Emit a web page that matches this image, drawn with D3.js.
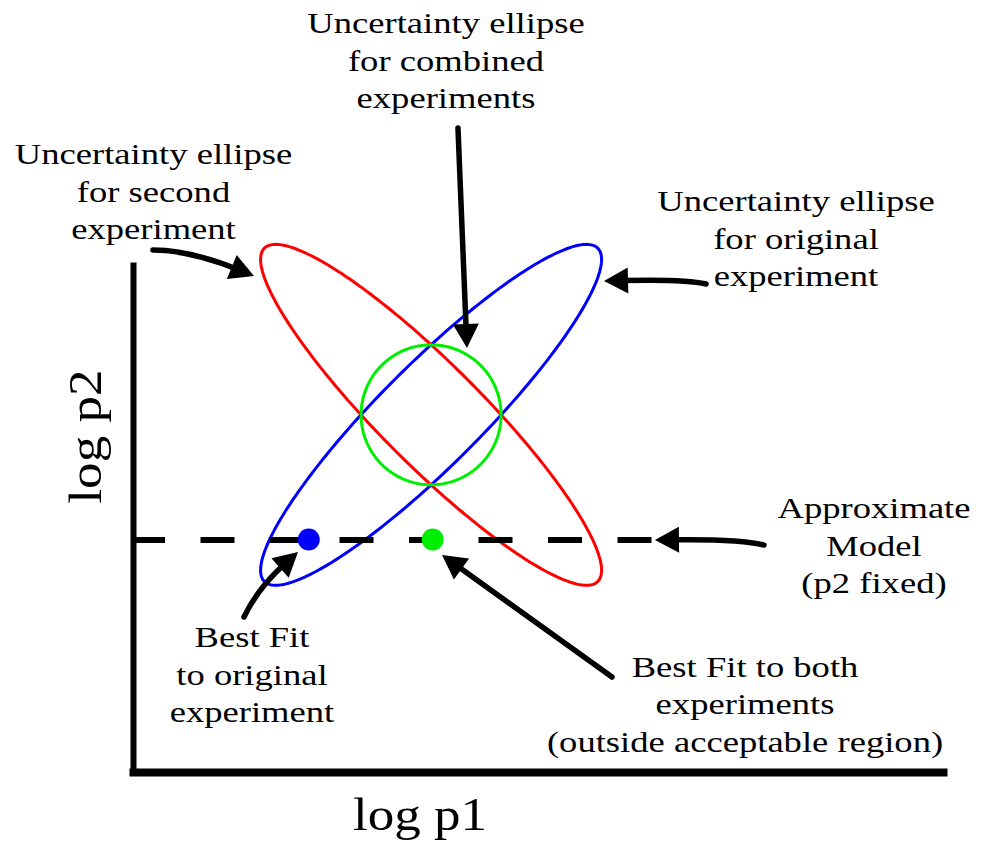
<!DOCTYPE html>
<html><head><meta charset="utf-8">
<script src="https://cdn.jsdelivr.net/npm/d3@7"></script>
<style>body{margin:0;background:#fff}</style>
</head><body>
<svg id="chart" width="988" height="844"></svg>
<script>
// ---------------- data (log p1, log p2 units) ----------------
const ellipseNames = ["second experiment", "original experiment", "combined experiments"];
const ellipseP1 = [3.68, 3.68, 3.68];
const ellipseP2 = [4.41, 4.41, 4.41];
const ellipseSemiMajor = [2.91, 2.91, 0.864];
const ellipseSemiMinor = [0.626, 0.626, 0.864];
const ellipseAngleDeg = [-45, 45, 0];

const fitNames = ["original", "both"];
const fitP1 = [2.17, 3.70];
const fitP2 = [2.87, 2.87];

const modelP2Fixed = 2.864;
const modelP1Extent = [0, 6.44];

const axisLabelX = "log p1";
const axisLabelY = "log p2";

const labelLines = [
  ["Uncertainty ellipse", "for combined", "experiments"],
  ["Uncertainty ellipse", "for second", "experiment"],
  ["Uncertainty ellipse", "for original", "experiment"],
  ["Approximate", "Model", "(p2 fixed)"],
  ["Best Fit", "to original", "experiment"],
  ["Best Fit to both", "experiments", "(outside acceptable region)"]
];

// ---------------- layout / style ----------------
const ellipseColors = ["#ff0000", "#0000ff", "#00ee00"];
const fitColors = ["#0000ff", "#00ee00"];
const labelAnchorP1 = [3.864, 0.253, 8.185, 9.148, 1.469, 7.556];
const labelAnchorP2 = [9.123, 7.506, 6.926, 3.136, 1.543, 1.173];
// arrows: start, control, tip (data units)
const arrowStart = [[4.012, 7.951], [0.247, 6.444], [7.074, 6.025], [7.790, 2.802], [1.370, 1.914], [5.914, 1.173]];
const arrowCtrl  = [[4.062, 6.593], [0.765, 6.420], [6.753, 6.086], [7.432, 2.877], [1.593, 2.321], [4.864, 1.926]];
const arrowTip   = [[4.123, 5.235], [1.494, 6.123], [5.815, 6.062], [6.444, 2.864], [2.037, 2.716], [3.815, 2.679]];

const FONT = "'Liberation Serif', 'Times New Roman', serif";

const svg = d3.select("#chart");
const x = d3.scaleLinear().domain([0, 10]).range([133, 943]);
const y = d3.scaleLinear().domain([0, 6.26]).range([772, 265]);

// ellipses
const lineGen = d3.line().x(d => x(d[0])).y(d => y(d[1])).curve(d3.curveLinearClosed);
ellipseNames.forEach((n, i) => {
  const th = ellipseAngleDeg[i] * Math.PI / 180;
  const pts = d3.range(0, 360, 1.5).map(t => {
    const a = t * Math.PI / 180;
    const u = ellipseSemiMajor[i] * Math.cos(a), v = ellipseSemiMinor[i] * Math.sin(a);
    return [ellipseP1[i] + u * Math.cos(th) - v * Math.sin(th),
            ellipseP2[i] + u * Math.sin(th) + v * Math.cos(th)];
  });
  svg.append("path").attr("class", "ellipse").attr("d", lineGen(pts))
    .attr("fill", "none").attr("stroke", ellipseColors[i]).attr("stroke-width", 3);
});

// axes
const gx = svg.append("g").attr("transform", `translate(0,${y(0)})`)
  .call(d3.axisBottom(x).tickValues([]).tickSizeOuter(0));
gx.select(".domain").attr("stroke", "#000").attr("stroke-width", 8).attr("stroke-linecap", "square");
const gy = svg.append("g").attr("transform", `translate(${x(0)},0)`)
  .call(d3.axisLeft(y).tickValues([]).tickSizeOuter(0));
gy.select(".domain").attr("stroke", "#000").attr("stroke-width", 6).attr("stroke-linecap", "square");

// approximate model dashed line
svg.append("line")
  .attr("x1", x(modelP1Extent[0])).attr("x2", x(modelP1Extent[1]))
  .attr("y1", y(modelP2Fixed)).attr("y2", y(modelP2Fixed))
  .attr("stroke", "#000").attr("stroke-width", 6)
  .attr("stroke-dasharray", "34,35.5").attr("stroke-dashoffset", 2);

// best-fit points
svg.selectAll("circle.fit").data(fitNames).join("circle").attr("class", "fit")
  .attr("cx", (d, i) => x(fitP1[i])).attr("cy", (d, i) => y(fitP2[i]))
  .attr("r", 11).attr("fill", (d, i) => fitColors[i]);

// arrows
arrowStart.forEach((s, i) => {
  const p0 = [x(s[0]), y(s[1])];
  const c = [x(arrowCtrl[i][0]), y(arrowCtrl[i][1])];
  const t = [x(arrowTip[i][0]), y(arrowTip[i][1])];
  let dx = t[0] - c[0], dy = t[1] - c[1];
  const len = Math.hypot(dx, dy); dx /= len; dy /= len;
  const L = 24, W = 13;
  const lineEnd = [t[0] - dx * L * 0.7, t[1] - dy * L * 0.7];
  const c2 = [c[0] + (lineEnd[0] - t[0]) * 0.3, c[1] + (lineEnd[1] - t[1]) * 0.3];
  const p = d3.path();
  p.moveTo(p0[0], p0[1]);
  p.quadraticCurveTo(c2[0], c2[1], lineEnd[0], lineEnd[1]);
  svg.append("path").attr("d", p.toString()).attr("fill", "none")
    .attr("stroke", "#000").attr("stroke-width", 5.5).attr("stroke-linecap", "round");
  const b = [t[0] - dx * L, t[1] - dy * L];
  const head = [t, [b[0] - dy * W, b[1] + dx * W], [b[0] + dy * W, b[1] - dx * W]];
  svg.append("path").attr("d", "M" + head.map(q => q.join(",")).join("L") + "Z").attr("fill", "#000");
});

// annotation labels
labelLines.forEach((lines, i) => {
  const tx = svg.append("text")
    .attr("transform", `translate(${x(labelAnchorP1[i])},${y(labelAnchorP2[i])}) scale(1.22,1)`)
    .attr("text-anchor", "middle").attr("font-family", FONT).attr("font-size", 30).attr("fill", "#000");
  lines.forEach((ln, j) => tx.append("tspan").attr("x", 0).attr("dy", j === 0 ? 0 : 37.5).text(ln));
});

// axis titles
svg.append("text")
  .attr("transform", `translate(${x(3.543)},${y(-0.716)}) scale(1.13,1)`)
  .attr("text-anchor", "middle").attr("font-family", FONT).attr("font-size", 47).text(axisLabelX);
svg.append("text")
  .attr("transform", `translate(${x(-0.395)},${y(4.142)}) rotate(-90) scale(1.13,1)`)
  .attr("text-anchor", "middle").attr("font-family", FONT).attr("font-size", 47).text(axisLabelY);
</script>
</body></html>
